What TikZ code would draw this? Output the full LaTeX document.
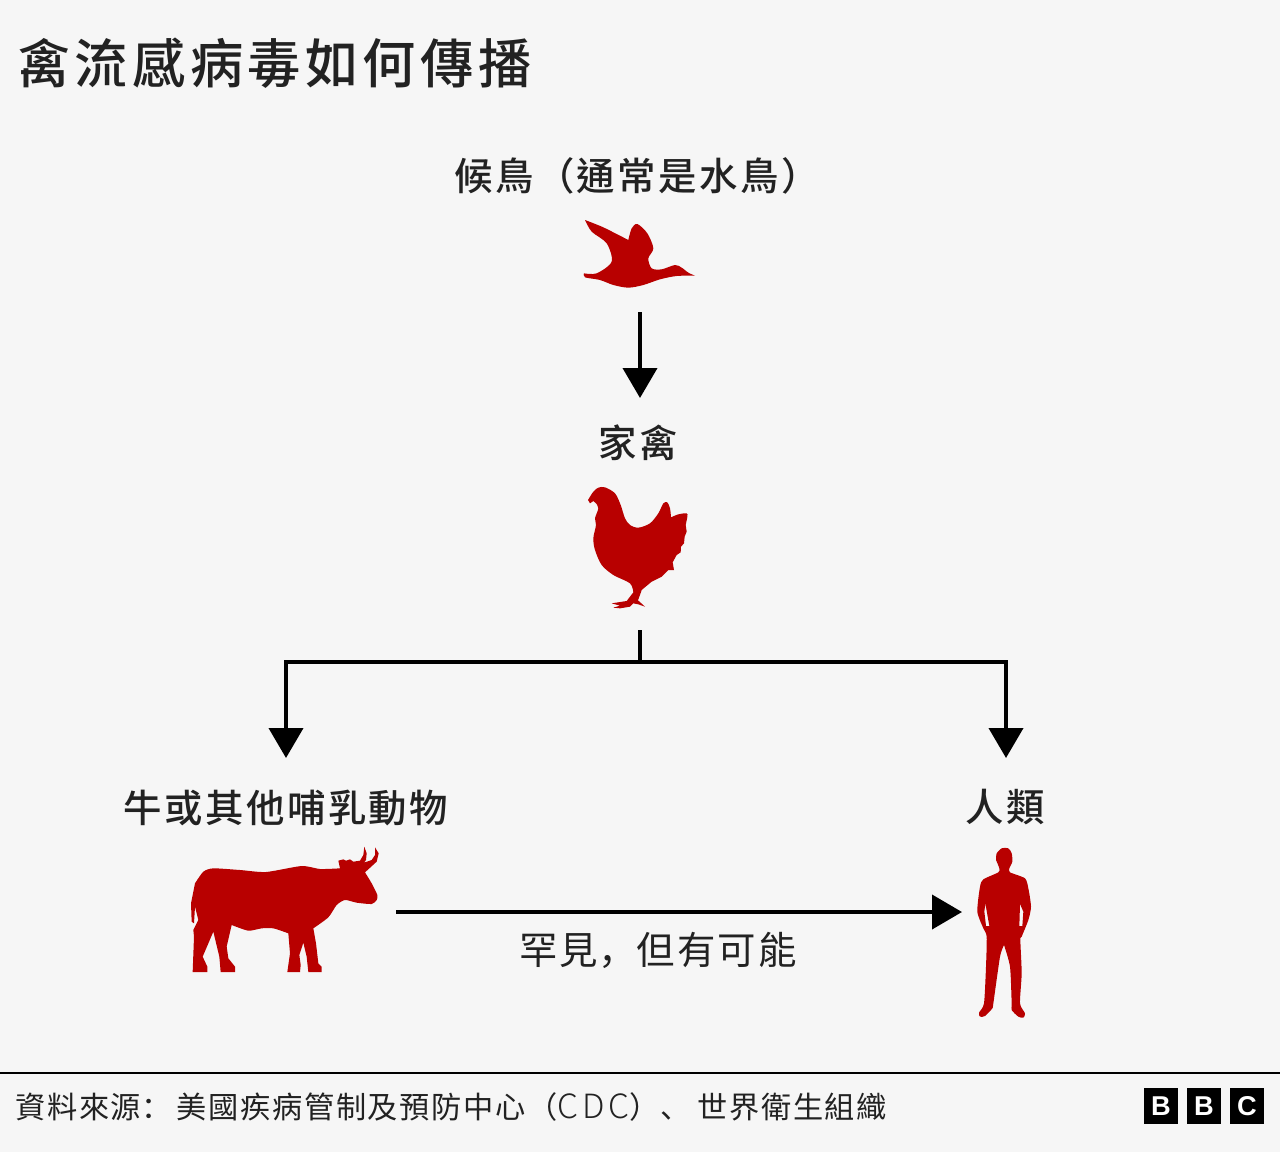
\documentclass[tikz,border=0pt]{standalone}
\usepackage{fontspec}
\usetikzlibrary{arrows.meta}
\setmainfont{Noto Sans CJK TC}
\newfontfamily\titlefont[LetterSpace=8.2]{Noto Sans CJK TC Medium}
\newfontfamily\labelfont[LetterSpace=6.5]{Noto Sans CJK TC Medium}
\newfontfamily\notefont[LetterSpace=5.5]{Noto Sans CJK TC}
\newfontfamily\notepunct[LetterSpace=5.5]{Noto Sans CJK SC}
\newfontfamily\notelatin[LetterSpace=12]{Noto Sans CJK TC Light}
\newfontfamily\logofont{Liberation Sans}
\definecolor{bgcol}{HTML}{F6F6F6}
\definecolor{bbcred}{HTML}{B80000}
\definecolor{inkcol}{HTML}{222222}
\tikzset{
  titletext/.style={inner sep=0pt,anchor=west,text=inkcol,font=\titlefont\fontsize{30.3}{32}\selectfont},
  animallabel/.style={inner sep=0pt,text=inkcol,font=\labelfont\fontsize{21.85}{24}\selectfont},
  notetext/.style={inner sep=0pt,text=inkcol,font=\notefont\fontsize{17.2}{20}\selectfont},
  animal/.style={fill=bbcred,draw=none},
  flow/.style={draw=black,line width=.08cm},
  flowtip/.style={flow,-{Triangle[width=.68cm,length=.6cm]}},
  logobox/.style={fill=black,text=white,inner sep=0pt,minimum width=.68cm,minimum height=.72cm,font=\logofont\bfseries\fontsize{15.5}{16}\selectfont}
}
\begin{document}
\begin{tikzpicture}[x=.02cm,y=-.02cm]
  \fill[bgcol] (0,0) rectangle (1280,1152);
  \useasboundingbox (0,0) rectangle (1280,1152);

  \node[titletext] (title) at (17,63) {禽流感病毒如何傳播};
  \node[animallabel] (birdlabel) at (637,176) {候鳥（通常是水鳥）};
  \node[animallabel] (poultrylabel) at (638,443) {家禽};
  \node[animallabel] (cowlabel) at (286,808) {牛或其他哺乳動物};
  \node[animallabel] (humanlabel) at (1005,807) {人類};
  \node[animallabel,font=\notefont\fontsize{21.85}{24}\selectfont] (rarelabel) at (658,950) {罕見{\notepunct，}但有可能};

  \begin{scope}[shift={(560,200)},scale=1/3]
    \fill[animal] plot[smooth,tension=.4] coordinates {(75,60) (130,82) (205,120)}
      -- plot[smooth,tension=.5] coordinates {(205,120) (215,85) (232,72) (262,100) (280,145) (265,175) (275,205) (305,208) (345,195) (365,203) (385,218) (405,227)}
      -- plot[smooth,tension=.5] coordinates {(405,227) (350,228) (300,238) (250,255) (205,263) (160,255) (120,240) (75,232) (72,220)}
      -- plot[smooth,tension=.5] coordinates {(72,220) (110,220) (155,185) (140,130) (95,95) (75,60)} -- cycle;
  \end{scope}

  \begin{scope}[shift={(570,475)},scale=1/3]
    \fill[animal] plot[smooth,tension=.5] coordinates {(54,75) (70,50) (85,38) (105,37) (135,55) (152,90) (165,130) (180,150) (205,158) (240,145) (265,115) (280,85) (292,82) (300,100) (303,127)}
      -- plot[smooth,tension=.5] coordinates {(303,127) (325,118) (350,115) (352,125) (347,150)}
      -- (350,170) -- (344,185) -- (342,205) -- (333,215) -- (332,232) -- (320,240) -- (308,262) -- (312,285) -- (295,285) -- (275,305) -- (245,320) -- (215,345) -- (212,354)
      -- (204,376) -- (225,395) -- (205,388) -- (190,385) -- (180,395) -- (150,400) -- (130,398) -- (150,392) -- (125,385) -- (170,378) -- (190,352)
      -- plot[smooth,tension=.5] coordinates {(190,352) (180,325) (130,300) (95,270) (75,225) (70,190) (78,150) (75,130) (85,100) (78,85)}
      -- (70,78) -- (60,85) -- cycle;
  \end{scope}

  \begin{scope}[shift={(180,840)},scale=1/3]
    \fill[animal] plot[smooth,tension=.4] coordinates {(45,130) (70,95) (100,85) (180,90) (258,96) (365,78) (420,87) (480,85)}
      -- (475,62) -- (490,58) -- (498,62) -- (510,58) -- (520,65) -- (540,62) -- (550,45) -- (553,20) -- (560,40) -- (558,60) -- (552,68) -- (575,60) -- (585,45) -- (585,22) -- (596,40) -- (590,65) -- (555,97)
      -- plot[smooth,tension=.4] coordinates {(555,97) (575,130) (592,165) (590,180) (575,192) (530,188) (495,180) (470,195) (445,232) (400,265)}
      -- (408,310) -- (415,370) -- (425,380) -- (425,396) -- (385,396) -- (380,350) -- (370,308) -- (358,345) -- (362,375) -- (360,396) -- (322,396) -- (330,340) -- (325,280)
      -- plot[smooth,tension=.4] coordinates {(325,280) (280,265) (245,265) (205,272) (155,255)}
      -- (140,320) -- (145,355) -- (165,380) -- (165,396) -- (122,396) -- (118,350) -- (100,275) -- (68,350) -- (82,380) -- (82,396) -- (38,396) -- (42,290) -- (40,270) -- (55,240) -- (45,200) -- (42,250) -- (35,245) -- (33,190) -- cycle;
  \end{scope}

  \begin{scope}[shift={(960,840)},scale=1/3]
    \fill[animal,even odd rule] plot[smooth,tension=.4] coordinates {(108,60) (110,40) (125,25) (145,25) (155,40) (157,65) (148,85) (150,97) (195,115) (205,145) (213,200) (205,240) (185,290) (181,300) (185,400) (180,490) (195,520) (190,533) (175,530) (155,510) (155,490) (150,380) (132,315)}
      -- plot[smooth,tension=.4] coordinates {(132,315) (120,350) (100,490) (97,505) (75,528) (60,530) (57,518) (72,490) (78,380) (80,290) (70,265) (52,215) (60,140) (70,118) (115,97) (118,85) (108,60)} -- cycle
      (76,190) -- (88,258) -- (78,258) -- (73,215) -- cycle
      (180,192) -- (190,215) -- (187,258) -- (178,258) -- cycle;
  \end{scope}

  \coordinate (birdfoot) at (640,312);
  \coordinate (poultrytop) at (640,398);
  \coordinate (poultryfoot) at (640,630);
  \coordinate (split) at (640,662);
  \coordinate (cowtop) at (286,758);
  \coordinate (humantop) at (1006,758);
  \coordinate (cowside) at (396,912);
  \coordinate (humanside) at (962,912);

  \draw[flowtip] (birdfoot) -- (poultrytop);
  \draw[flow] (poultryfoot) -- (split);
  \draw[flowtip] (split) -| (cowtop);
  \draw[flowtip] (split) -| (humantop);
  \draw[flowtip] (cowside) -- (humanside);

  \coordinate (ruleleft) at (0,1073);
  \coordinate (ruleright) at (1280,1073);
  \draw[black,line width=.04cm] (ruleleft) -- (ruleright);
  \node[notetext,anchor=west] (source) at (15,1107) {資料來源{\notepunct：}\kern3pt 美國疾病管制及預防中心（{\notelatin\fontsize{19}{20}\selectfont CDC}）{\notepunct、}\kern4pt 世界衛生組織};

  \foreach \name/\letter/\xpos in {logoa/B/1161,logob/B/1204,logoc/C/1247}
    \node[logobox] (\name) at (\xpos,1106) {\letter};
\end{tikzpicture}
\end{document}
